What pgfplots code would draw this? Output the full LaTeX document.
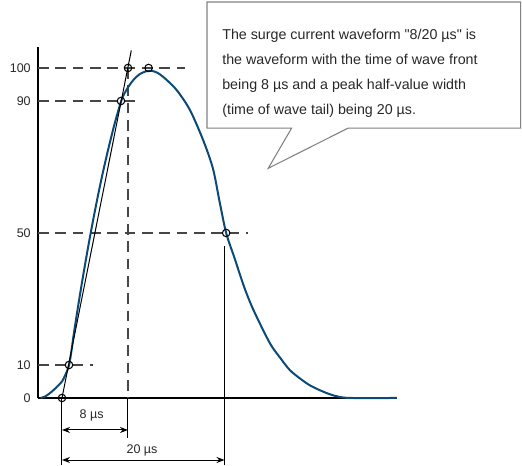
\documentclass[border=0pt]{standalone}
\usepackage{fontspec}
\setmainfont{Liberation Sans}
\usepackage{pgfplots}
\pgfplotsset{compat=1.18}
\usetikzlibrary{arrows.meta}
\definecolor{wave}{RGB}{11,74,118}
\definecolor{dashc}{RGB}{70,70,70}
\definecolor{boxc}{RGB}{130,130,130}
\definecolor{txt}{RGB}{40,40,40}
\begin{document}
\begin{tikzpicture}
\begin{axis}[
  x=6.1875pt, y=2.475pt,
  xmin=-2.9, xmax=40.6, ymin=0, ymax=106.4,
  axis lines=left,
  axis line style={-, line width=1.6pt, black},
  xtick=\empty,
  ytick={0,10,50,90,100},
  yticklabels={0,10,50,90,100},
  tick align=inside,
  major tick length=4.5pt,
  tick style={black!70, line width=0.6pt},
  yticklabel style={font=\fontsize{9.4}{11}\selectfont, text=txt, anchor=east, xshift=-2pt},
  clip=false,
]
% bounding box of the whole picture
\path (axis cs:-7.515,-20.3) rectangle (axis cs:55.76,120.6);

% dashed guide lines
\draw[dashc, line width=1pt, dash pattern=on 8pt off 5pt] (axis cs:-2.9,100) -- (axis cs:14.9,100);
\draw[dashc, line width=1pt, dash pattern=on 8pt off 5pt] (axis cs:-2.9,90) -- (axis cs:9.7,90);
\draw[dashc, line width=1pt, dash pattern=on 8pt off 5pt] (axis cs:-2.9,50) -- (axis cs:22.5,50);
\draw[dashc, line width=1pt, dash pattern=on 8pt off 5pt] (axis cs:-2.9,10) -- (axis cs:3.8,10);
\draw[dashc, line width=1pt, dash pattern=on 8pt off 5pt] (axis cs:8,100) -- (axis cs:8,0);

% dimension lines
\draw[black, line width=0.75pt] (axis cs:0,0) -- (axis cs:0,-20.3);
\draw[black, line width=0.75pt] (axis cs:8,0) -- (axis cs:8,-12.1);
\draw[black, line width=0.75pt] (axis cs:19.7,46) -- (axis cs:19.7,-20.3);
\draw[black, line width=0.75pt, {Stealth[length=6pt,width=4.5pt]}-{Stealth[length=6pt,width=4.5pt]}] (axis cs:0,-9.7) -- (axis cs:8,-9.7);
\draw[black, line width=0.75pt, {Stealth[length=6pt,width=4.5pt]}-{Stealth[length=6pt,width=4.5pt]}] (axis cs:0,-18.8) -- (axis cs:19.7,-18.8);
\node[font=\fontsize{9.4}{11}\selectfont, text=txt] at (axis cs:3.6,-5.2) {8 µs};
\node[font=\fontsize{9.4}{11}\selectfont, text=txt] at (axis cs:9.7,-15.8) {20 µs};

% waveform
\addplot[wave, line width=1.5pt, smooth, tension=0.5] coordinates {
(-2.6,0) (-2.0,0.5) (-1.25,1.9) (-0.6,3.4) (0,5.0) (0.35,6.7) (0.65,8.4) (0.89,10.3)
(1.15,14.3) (1.39,18.7) (1.89,26.8) (2.39,34.5) (2.89,41.8) (3.39,48.8)
(3.89,55.4) (4.39,61.7) (4.89,67.6) (5.39,73.1) (5.89,78.3) (6.39,83.2)
(7.15,89.8) (7.6,92.4) (8.1,94.5) (8.7,96.5) (9.4,98.1) (10.2,99) (10.9,99.1)
(11.6,98.5) (12.5,96.8) (13.9,93.3) (15.5,87.3) (17.1,78.2) (18.3,69.5)
(19.1,59.5) (19.9,50) (20.9,42.5) (22.1,33.5) (23.2,26.7) (25.2,16.6)
(26.5,12) (27.6,8.5) (28.8,6) (30,3.9) (31.3,2.3) (32.5,1.1) (33.5,0.4)
(35,0) (40.6,0)
};

% front line
\addplot[black, line width=0.75pt] coordinates {(0,0) (8.4,105.3)};

% marker circles
\addplot[only marks, mark=o, mark size=2.8pt, mark options={fill=white, draw=black, line width=0.8pt}] coordinates {
(0,0) (0.85,10) (7.15,90) (8,100) (10.5,100) (19.9,50)
};

% callout box
\draw[boxc, line width=0.8pt, fill=white]
  (axis cs:17.58,120) -- (axis cs:55.6,120) -- (axis cs:55.6,81.8)
  -- (axis cs:34.7,81.8) -- (axis cs:25.0,69.6) -- (axis cs:27.84,81.8)
  -- (axis cs:17.58,81.8) -- cycle;
\node[anchor=north west, inner sep=0pt, align=left, text=txt,
      font=\fontsize{10.7}{18.75}\selectfont] at (axis cs:19.4,111.9)
  {The surge current waveform \textquotedbl 8/20 µs\textquotedbl{} is\\
   the waveform with the time of wave front\\
   being 8 µs and a peak half-value width\\
   (time of wave tail) being 20 µs.};
\end{axis}
\end{tikzpicture}
\end{document}
